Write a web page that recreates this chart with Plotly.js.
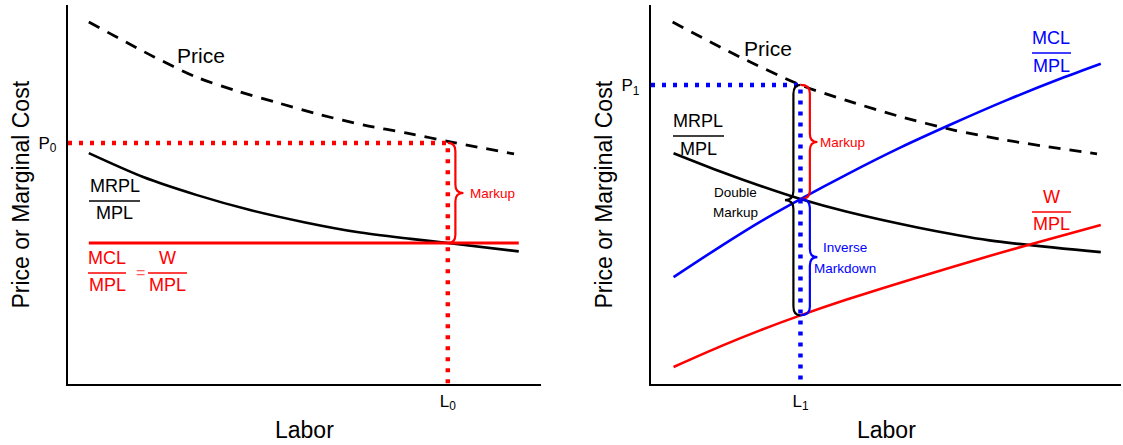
<!DOCTYPE html>
<html><head><meta charset="utf-8">
<script src="https://cdn.plot.ly/plotly-3.0.1.min.js"></script>
<style>html,body{margin:0;padding:0;background:#fff}#chart{width:1123px;height:445px}</style>
</head><body><div id="chart"></div>
<script>
// ---- Left panel data (MCL = W) ----
const priceLeftX = [4.4, 18.2, 27.1, 35.7, 44.6, 53.5, 62.6, 71.7, 80.8, 94.3];
const priceLeft  = [95.5, 86.3, 81.0, 77.3, 74.1, 71.0, 68.3, 66.2, 63.9, 60.7];
const mrplLeftX  = [4.4, 15.9, 27.1, 38.5, 49.9, 61.1, 72.5, 80.3, 95.3];
const mrplLeft   = [60.9, 54.6, 49.9, 45.9, 42.7, 40.1, 38.3, 37.2, 35.0];
const wageLeftX  = [4.4, 95.3];
const wageLeft   = [37.2, 37.2];
const P0 = 63.6, L0 = 80.3, W0 = 37.2;

// ---- Right panel data ----
const priceRightX = [4.6, 18.9, 31.8, 41.4, 52.9, 64.4, 75.7, 94.9];
const priceRight  = [95.5, 86.3, 78.9, 74.9, 70.6, 67.0, 64.3, 60.7];
const mrplRightX  = [4.8, 14.9, 23.2, 31.8, 41.5, 56.7, 72.0, 95.7];
const mrplRight   = [60.9, 56.0, 52.3, 48.8, 45.5, 41.3, 37.9, 34.8];
const mclRightX   = [4.8, 14.9, 23.2, 31.8, 41.5, 52.9, 64.0, 75.7, 87.2, 95.7];
const mclRight    = [28.2, 36.4, 42.8, 48.8, 55.2, 62.3, 68.6, 74.9, 80.6, 84.5];
const wRightX     = [4.8, 14.9, 23.2, 31.8, 41.5, 56.7, 72.0, 81.0, 95.7];
const wRight      = [4.5, 10.0, 14.15, 18.1, 22.2, 28.1, 33.8, 36.95, 41.95];
const P1 = 78.9, L1 = 31.8, M1 = 48.8, W1 = 18.1;

const tickLabelsLeftX = ['L<sub>0</sub>'], tickLabelsLeftY = ['P<sub>0</sub>'];
const tickLabelsRightX = ['L<sub>1</sub>'], tickLabelsRightY = ['P<sub>1</sub>'];

const RED = '#ff0000', BLUE = '#0000ff', BLACK = '#000000';
const FONT = 'Liberation Sans, Arial, Helvetica, sans-serif';
const W = 1123, H = 445;
const px = x => x / W, py = y => 1 - y / H;

function line(x, y, color, xa, ya, dash, width) {
  return {x, y, xaxis: xa, yaxis: ya, mode: 'lines', type: 'scatter', hoverinfo: 'skip',
    line: {color, width: width || 2.6, dash: dash || 'solid', shape: 'spline', smoothing: 0.8}};
}
const DOT = '4px,7px', DASH = '12px,9px';
const traces = [
  line(priceLeftX, priceLeft, BLACK, 'x', 'y', DASH, 2.8),
  line(mrplLeftX, mrplLeft, BLACK, 'x', 'y'),
  line(wageLeftX, wageLeft, RED, 'x', 'y', 'solid', 3),
  {x: [0, L0, L0], y: [P0, P0, 0], xaxis: 'x', yaxis: 'y', mode: 'lines', hoverinfo: 'skip',
   line: {color: RED, width: 4.5, dash: DOT}},
  line(priceRightX, priceRight, BLACK, 'x2', 'y2', DASH, 2.8),
  line(mrplRightX, mrplRight, BLACK, 'x2', 'y2'),
  line(mclRightX, mclRight, BLUE, 'x2', 'y2'),
  line(wRightX, wRight, RED, 'x2', 'y2'),
  {x: [0, L1, L1], y: [P1, P1, 0], xaxis: 'x2', yaxis: 'y2', mode: 'lines', hoverinfo: 'skip',
   line: {color: BLUE, width: 4.5, dash: DOT}}
];

function brace(xs, yTop, yBot, xb, xt, r, color, xref, yref) {
  const ym = (yTop + yBot) / 2;
  const p = `M${xs},${yTop} Q${xb},${yTop} ${xb},${yTop - r} L${xb},${ym + r} Q${xb},${ym} ${xt},${ym} ` +
            `Q${xb},${ym} ${xb},${ym - r} L${xb},${yBot + r} Q${xb},${yBot} ${xs},${yBot}`;
  return {type: 'path', path: p, xref, yref, line: {color, width: 2.2}};
}
function bar(x0, x1, y, color) {
  return {type: 'line', xref: 'paper', yref: 'paper', x0: px(x0), x1: px(x1), y0: py(y), y1: py(y),
          line: {color, width: 1.3}};
}
const shapes = [
  brace(L0, P0, W0, L0 + 1.6, L0 + 3.3, 2.2, RED, 'x', 'y'),
  brace(L1, P1, W1, L1 - 1.5, L1 - 3.3, 2.4, BLACK, 'x2', 'y2'),
  brace(L1, P1, M1, L1 + 2.0, L1 + 3.6, 2.2, RED, 'x2', 'y2'),
  brace(L1, M1, W1, L1 + 2.0, L1 + 3.6, 2.2, BLUE, 'x2', 'y2'),
  bar(89, 140, 201, BLACK),
  bar(88, 126, 273, RED),
  bar(148, 187, 273, RED),
  bar(673, 724, 136, BLACK),
  bar(1032, 1071, 53, BLUE),
  bar(1032, 1071, 212, RED)
];

function txt(text, x, y, size, color, opts) {
  return Object.assign({text, xref: 'paper', yref: 'paper', x: px(x), y: py(y), showarrow: false,
    xanchor: 'center', yanchor: 'middle', font: {family: FONT, size, color}}, opts || {});
}
const annotations = [
  txt('Price', 201, 56, 21, BLACK),
  txt('MRPL', 114.5, 186, 18, BLACK),
  txt('MPL', 114.5, 213, 18, BLACK),
  txt('MCL', 107, 258, 18, RED),
  txt('MPL', 107, 285, 18, RED),
  txt('=', 140, 272, 16, '#ff6060'),
  txt('W', 167.5, 258, 18, RED),
  txt('MPL', 167.5, 285, 18, RED),
  txt('Markup', 468, 193, 13.5, RED, {xanchor: 'left'}),
  txt('Price or Marginal Cost', 20, 194.5, 23, BLACK, {textangle: -90}),
  txt('Labor', 304.5, 430, 23, BLACK),
  txt('Price', 768, 49, 21, BLACK),
  txt('MRPL', 698, 121, 18, BLACK),
  txt('MPL', 698, 149, 18, BLACK),
  txt('MCL', 1051, 38, 18, BLUE),
  txt('MPL', 1051, 66, 18, BLUE),
  txt('W', 1051, 197, 18, RED),
  txt('MPL', 1051, 224, 18, RED),
  txt('Double', 736, 192, 13.5, BLACK),
  txt('Markup', 736, 212, 13.5, BLACK),
  txt('Markup', 818, 143, 13.5, RED, {xanchor: 'left'}),
  txt('Inverse', 845, 247, 13.5, BLUE),
  txt('Markdown', 845, 268, 13.5, BLUE),
  txt('Price or Marginal Cost', 603, 194.5, 23, BLACK, {textangle: -90}),
  txt('Labor', 886.5, 430, 23, BLACK)
];

const axBase = {range: [0, 100], showgrid: false, zeroline: false, showline: true, linecolor: BLACK,
  linewidth: 2.2, ticks: '', tickmode: 'array', fixedrange: true,
  tickfont: {family: FONT, size: 17, color: BLACK}};
const ydom = [61 / H, 440 / H];
const layout = {
  width: W, height: H, margin: {l: 0, r: 0, t: 0, b: 0}, showlegend: false,
  paper_bgcolor: '#fff', plot_bgcolor: '#fff', hovermode: false,
  xaxis: Object.assign({}, axBase, {domain: [68 / W, 541 / W], anchor: 'y', tickvals: [L0], ticktext: tickLabelsLeftX}),
  yaxis: Object.assign({}, axBase, {domain: ydom, anchor: 'x', tickvals: [P0], ticktext: tickLabelsLeftY, ticklabelstandoff: 6}),
  xaxis2: Object.assign({}, axBase, {domain: [651 / W, 1121 / W], anchor: 'y2', tickvals: [L1], ticktext: tickLabelsRightX}),
  yaxis2: Object.assign({}, axBase, {domain: ydom, anchor: 'x2', tickvals: [P1], ticktext: tickLabelsRightY, ticklabelstandoff: 6}),
  shapes, annotations
};
Plotly.newPlot('chart', traces, layout, {displayModeBar: false, staticPlot: true});
</script></body></html>
